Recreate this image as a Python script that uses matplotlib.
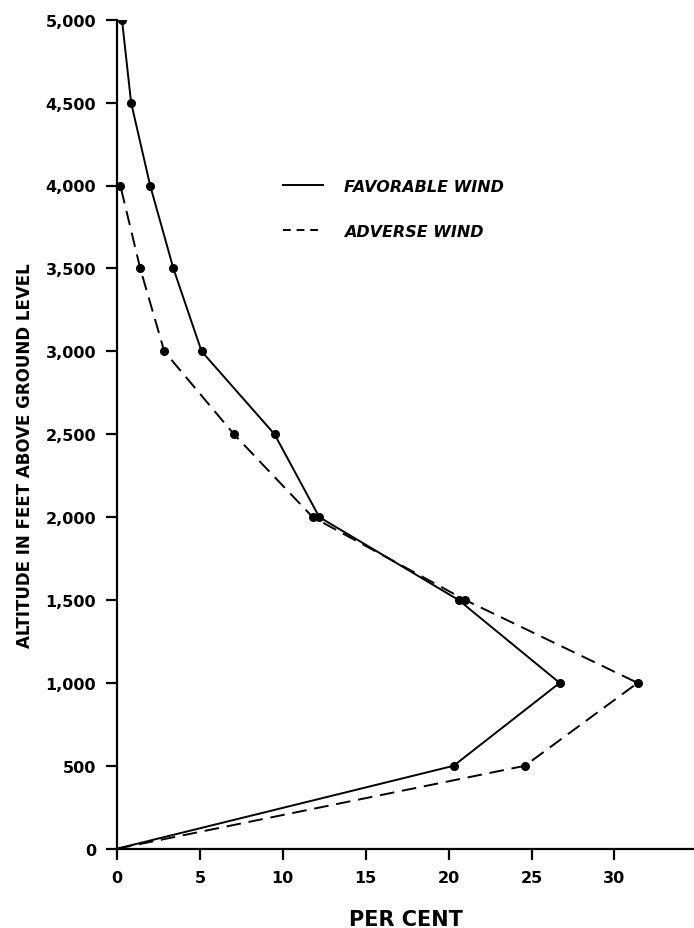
import matplotlib
matplotlib.use("Agg")
import matplotlib.pyplot as plt
from matplotlib.lines import Line2D

altitude = [0, 500, 1000, 1500, 2000, 2500, 3000, 3500, 4000, 4500, 5000]
favorable = [0, 20.3, 26.7, 20.6, 12.2, 9.5, 5.1, 3.4, 2.0, 0.85, 0.3]
adverse_alt = [0, 500, 1000, 1500, 2000, 2500, 3000, 3500, 4000]
adverse = [0, 24.6, 31.4, 21.0, 11.8, 7.05, 2.85, 1.4, 0.2]

x_ticks = [0, 5, 10, 15, 20, 25, 30]
y_ticks = list(range(0, 5001, 500))
y_ticklabels = ["{:,}".format(v) for v in y_ticks]

plt.rcParams['font.family'] = ['DejaVu Sans']

fig = plt.figure(figsize=(6.94, 9.29), dpi=100)
ax = fig.add_axes([117/694, 79.3/929, 577/694, 829/929])

ax.plot(favorable, altitude, color="black", lw=1.4,
        marker="o", ms=5.5, markevery=slice(1, None))
ax.plot(adverse, adverse_alt, color="black", lw=1.4, dashes=(7.5, 4),
        marker="o", ms=5.5, markevery=slice(1, None))

ax.set_xlim(0, 34.8)
ax.set_ylim(0, 5000)
ax.set_xticks(x_ticks)
ax.set_yticks(y_ticks)
ax.set_yticklabels(y_ticklabels)

for s in ["top", "right"]:
    ax.spines[s].set_visible(False)
for s in ["left", "bottom"]:
    ax.spines[s].set_linewidth(1.6)
    ax.spines[s].set_clip_on(False)
ax.tick_params(direction="out", length=8, width=1.6, labelsize=11.5, pad=7)
for lab in ax.get_xticklabels() + ax.get_yticklabels():
    lab.set_fontweight("bold")

ax.set_xlabel("PER CENT", fontsize=15, fontweight="bold")
ax.xaxis.set_label_coords(0.5, -70/829, transform=ax.transAxes)
ax.xaxis.label.set_va("center")
ax.set_ylabel("ALTITUDE IN FEET ABOVE GROUND LEVEL", fontsize=13.3,
              fontweight="bold", fontstretch="condensed")
ax.yaxis.set_label_coords(-92/577, (849.7-456)/829, transform=ax.transAxes)
ax.yaxis.label.set_va("center")

handles = [Line2D([], [], color="black", lw=1.4),
           Line2D([], [], color="black", lw=1.4, dashes=(4, 3))]
ax.legend(handles, ["FAVORABLE WIND", "ADVERSE WIND"],
          loc="upper left", bbox_to_anchor=(0.288, 0.808),
          frameon=False, borderpad=0, borderaxespad=0,
          handlelength=2.5, handletextpad=1.3, labelspacing=1.86,
          prop={"size": 11.5, "style": "italic", "weight": "bold"})

fig.savefig("out.png", dpi=100)
